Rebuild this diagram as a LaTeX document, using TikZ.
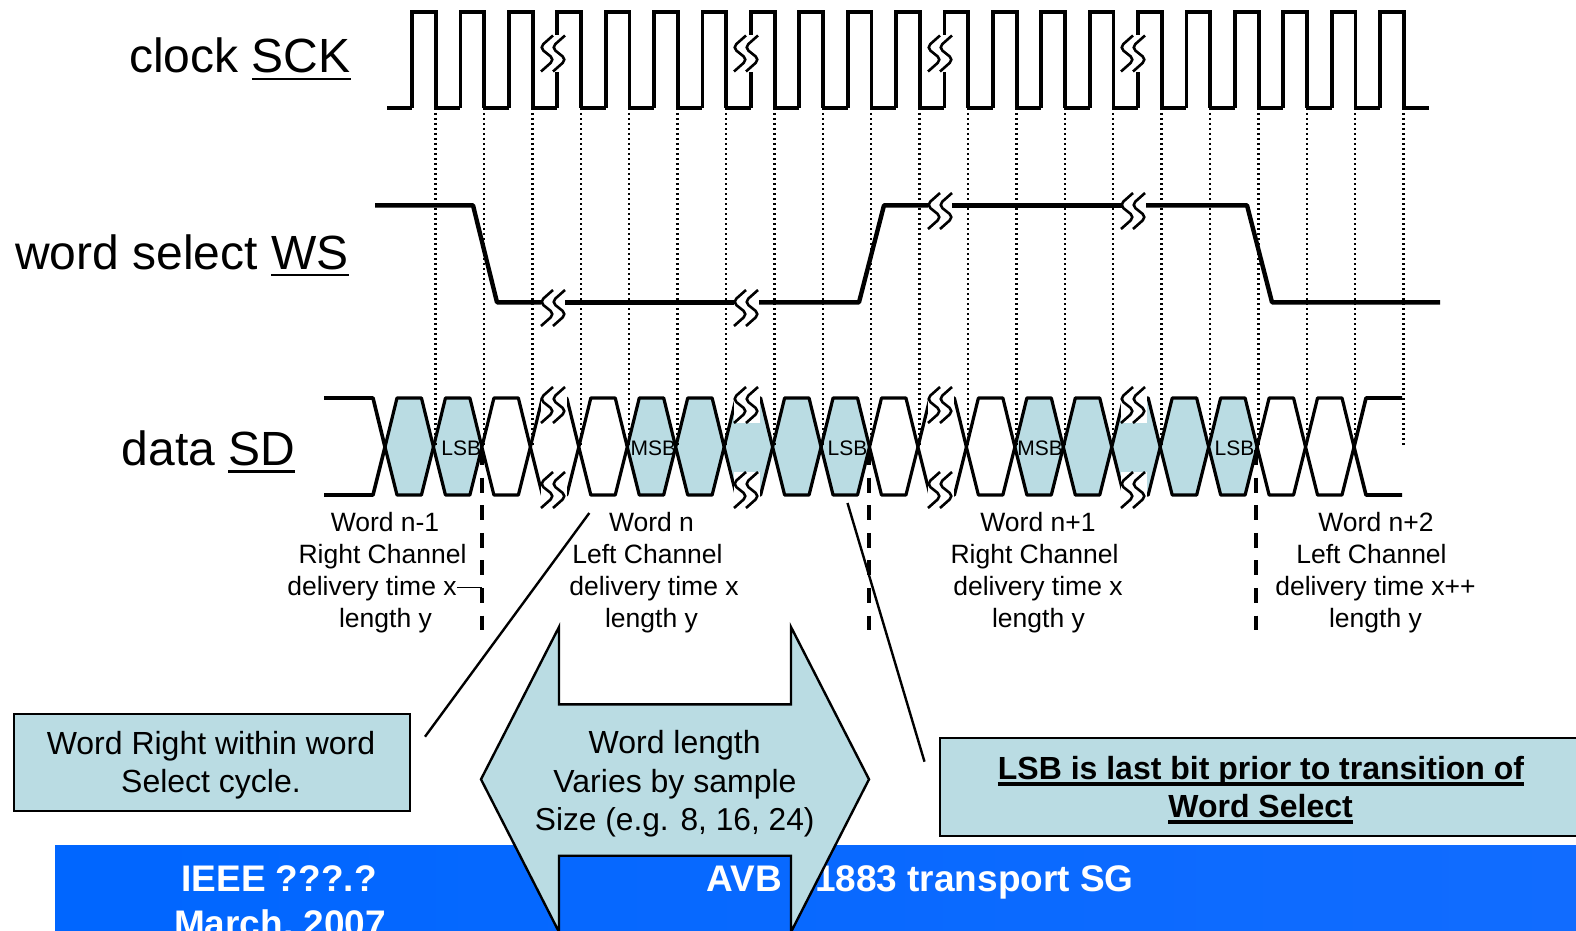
\documentclass[tikz,border=0pt]{standalone}
\usepackage{fontspec}
\setmainfont{Liberation Sans}
\definecolor{pale}{HTML}{BADCE3}
\definecolor{bannerL}{HTML}{0066FF}
\definecolor{bannerR}{HTML}{116CFF}
\newsavebox{\ulsave}
\newcommand{\ulbar}[3]{\sbox{\ulsave}{#3}\leavevmode\rlap{\vrule width\wd\ulsave height -#1em depth #2em}\usebox{\ulsave}}
\newcommand{\squig}[2]{\draw[squigline] (#1+12,#2-18) -- (#1-1.5,#2-6) -- (#1+13.5,#2+6) -- (#1,#2+18);
  \draw[squigline] (#1+24,#2-18) -- (#1+10.5,#2-6) -- (#1+25.5,#2+6) -- (#1+12,#2+18);}
\newcommand{\hexa}[2]{\pgfmathsetmacro{\ca}{385+48.45*#1}\pgfmathsetmacro{\cb}{385+48.45*(#1+1)}
  \draw[dataline,fill=#2] (\ca,447) -- (\ca+12,398) -- (\cb-12,398) -- (\cb,447) -- (\cb-12,495) -- (\ca+12,495) -- cycle;}
\tikzset{
  every node/.style={inner sep=0pt},
  lbl/.style={anchor=base,font=\fontsize{26.5}{30}\selectfont},
  title/.style={anchor=base west,font=\fontsize{48}{54}\selectfont},
  boxtxt/.style={anchor=base,font=\fontsize{32}{38}\selectfont},
  boldtxt/.style={anchor=base,font=\bfseries\fontsize{32}{38}\selectfont},
  bantxt/.style={anchor=base,text=white,font=\bfseries\fontsize{37}{42}\selectfont},
  bit/.style={anchor=base,font=\fontsize{21}{24}\selectfont},
  clockline/.style={line width=3.8pt,line join=miter,line cap=butt},
  wsline/.style={line width=4.4pt,line join=round},
  dataline/.style={line width=3.2pt,line join=round},
  stub/.style={line width=3.6pt,line join=round},
  squigline/.style={line width=2.6pt,rounded corners=5pt},
  dots/.style={line width=2.4pt,dash pattern=on 2.4pt off 2.6pt},
  boundary/.style={line width=4pt,dash pattern=on 15pt off 12.6pt},
  leader/.style={line width=2.4pt},
  callout/.style={draw=black,line width=2.4pt,fill=pale}
}
\begin{document}
\begin{tikzpicture}[x=1pt,y=-1pt]
\clip (0,0) rectangle (1576,931);
\fill[white] (0,0) rectangle (1576,931);
% banner
\path[left color=bannerL,right color=bannerR] (55,845) rectangle (1576,931);
\node[bantxt] (ieee) at (279,891) {IEEE ???.?};
\node[bantxt] (march) at (280,936.5) {March, 2007};
\node[bantxt,anchor=base west] (avb) at (706.5,891) {AVB};
\node[bantxt,anchor=base east] (sg) at (1134,891) {1883 transport SG};
% data hexagons
\foreach \k in {0,1,5,6,7,8,9,13,14,15,16,17} {\hexa{\k}{pale}}
\foreach \k in {2,3,4,10,11,12,18,19} {\hexa{\k}{white}}
\draw[stub] (324,398) -- (373,398) -- (385,447) -- (373,495) -- (324,495);
\draw[stub] (1402,398) -- (1366,398) -- (1354,447) -- (1366,495) -- (1402,495);
% dotted guides
\foreach \k in {0,...,20} {\draw[dots] ({435.5+48.4*\k},108) -- ({435.5+48.4*\k},447);}
% clock
\draw[clockline] (387,108) -- (412,108);
\foreach \k in {0,...,20} {
  \pgfmathsetmacro{\ra}{412+48.4*\k}
  \pgfmathsetmacro{\fa}{435.8+48.4*\k}
  \pgfmathsetmacro{\rb}{412+48.4*(\k+1)}
  \pgfmathtruncatemacro{\brk}{(\k==3)||(\k==7)||(\k==11)||(\k==15)}
  \ifnum\brk=1
    \draw[clockline] (\ra,108) -- (\ra,72);
    \draw[clockline] (\ra,35) -- (\ra,12) -- (\fa,12) -- (\fa,108);
  \else
    \draw[clockline] (\ra,108) -- (\ra,12) -- (\fa,12) -- (\fa,108);
  \fi
  \ifnum\k<20 \draw[clockline] (\fa,108) -- (\rb,108); \fi
}
\draw[clockline] (1403,108) -- (1429,108);
\foreach \x in {541,734,928,1121} {\squig{\x}{53.5}}
% word select
\draw[wsline] (375,205.3) -- (473,205.3) -- (497,302.3) -- (541,302.3);
\draw[wsline] (565,302.3) -- (734,302.3);
\draw[wsline] (759,302.3) -- (859,302.3) -- (884,205.3) -- (928,205.3);
\draw[wsline] (952,205.3) -- (1122,205.3);
\draw[wsline] (1146,205.3) -- (1247,205.3) -- (1272,302.3) -- (1440,302.3);
\squig{541}{308} \squig{734}{308} \squig{928}{211} \squig{1121}{211}
% data breaks
\foreach \x in {541,734,928,1121} {
  \fill[white] (\x,396) rectangle (\x+25.5,423);
  \fill[white] (\x,472) rectangle (\x+25.5,497.5);
  \squig{\x}{405}
  \squig{\x}{490}
}
\node[bit] (lsba) at (461.3,455) {LSB};
\node[bit] (msba) at (653.3,455) {MSB};
\node[bit] (lsbb) at (847.5,455) {LSB};
\node[bit] (msbb) at (1040,455) {MSB};
\node[bit] (lsbc) at (1234.5,455) {LSB};
% word boundaries
\coordinate (ba) at (481.8,450); \coordinate (bae) at (481.8,630);
\coordinate (bb) at (869,450); \coordinate (bbe) at (869,630);
\coordinate (bc) at (1255.7,450); \coordinate (bce) at (1255.7,630);
\draw[boundary] (ba) -- (bae);
\draw[boundary] (bb) -- (bbe);
\draw[boundary] (bc) -- (bce);
% word labels
\node[lbl] (a1) at (385,531) {Word n-1};
\node[lbl] (a2) at (382.5,563) {Right Channel};
\node[lbl] (a3) at (372,595) {delivery time x};
\node[lbl] (a4) at (385.5,627) {length y};
\coordinate (tick) at (481.8,587.5);
\draw[line width=1.8pt] (a3.base east |- tick) -- (tick);
\node[lbl] (b1) at (651.5,531) {Word n};
\node[lbl] (b2) at (647.5,563) {Left Channel};
\node[lbl] (b3) at (654,595) {delivery time x};
\node[lbl] (b4) at (651.5,627) {length y};
\node[lbl] (c1) at (1038,531) {Word n+1};
\node[lbl] (c2) at (1034.5,563) {Right Channel};
\node[lbl] (c3) at (1038,595) {delivery time x};
\node[lbl] (c4) at (1038.5,627) {length y};
\node[lbl] (d1) at (1376,531) {Word n+2};
\node[lbl] (d2) at (1371.5,563) {Left Channel};
\node[lbl] (d3) at (1375.5,595) {delivery time x++};
\node[lbl] (d4) at (1375.5,627) {length y};
% titles
\node[title] (sck) at (129,73) {clock \ulbar{0.1}{0.155}{SCK}};
\node[title] (ws) at (15,269) {word select \ulbar{0.1}{0.155}{WS}};
\node[title] (sd) at (121.5,465.5) {data \ulbar{0.1}{0.155}{SD}};
% callouts
\node[callout,minimum width=395.5pt,minimum height=97.5pt,anchor=north west] (right) at (13,712.5) {};
\node[boxtxt] (r1) at (211,754) {Word Right within word};
\node[boxtxt] (r2) at (211,792.5) {Select cycle.};
\node[callout,minimum width=660pt,minimum height=97.5pt,anchor=north west] (lsbbox) at (939,737) {};
\node[boldtxt] (l1) at (1261,779.3) {\ulbar{0.075}{0.2}{LSB is last bit prior to transition of}};
\node[boldtxt] (l2) at (1260.6,817.3) {\ulbar{0.075}{0.2}{Word Select}};
\coordinate (la) at (589.3,513); \coordinate (lb) at (425,736.7);
\coordinate (ma) at (847.5,503); \coordinate (mb) at (924.5,761.7);
\draw[leader] (la) -- (lb);
\draw[leader] (ma) -- (mb);
% big double arrow
\draw[callout,line join=miter] (481,779.3) -- (559,627) -- (559,704.3) -- (791,704.3) -- (791,627) -- (869,779.3) -- (791,932) -- (791,855.7) -- (559,855.7) -- (559,932) -- cycle;
\node[boxtxt] (w1) at (674.7,753.5) {Word length};
\node[boxtxt] (w2) at (675,792) {Varies by sample};
\node[boxtxt,font=\fontsize{31.7}{38}\selectfont] (w3) at (674.7,830) {Size (e.g. 8, 16, 24)};
\end{tikzpicture}
\end{document}
